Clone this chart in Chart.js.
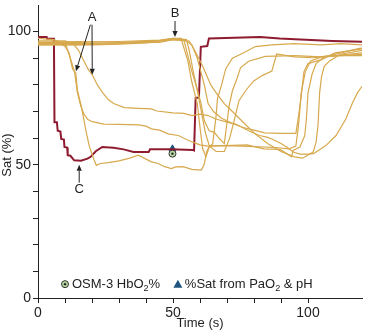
<!DOCTYPE html>
<html>
<head>
<meta charset="utf-8">
<script src="https://cdn.jsdelivr.net/npm/chart.js@4.4.1/dist/chart.umd.min.js"></script>
<style>
  html, body { margin: 0; padding: 0; background: #fff; }
</style>
</head>
<body>
<canvas id="graf" width="367" height="330"></canvas>
<script>
//---------------------------------------------------------------------------
//                         DADOS

const xTickLabels = [0, 50, 100];
const yTickLabels = [0, 50, 100];

// curva C (vermelha)
const tempoC = [0, 3.2, 3.4, 5.9, 6.1, 7, 7.3, 8.3, 8.6, 9.6, 9.8, 10.8, 11, 12, 13.4, 15.9, 18.3, 19.5, 21.4, 23.8, 28, 31.7, 35.4, 41, 41.5, 49.4, 57.3, 57.8, 58.4, 59.6, 60.3, 62.7, 63.3, 82.2, 89.5, 109, 120];
const satC   = [98, 98, 97.3, 97.3, 66, 66, 62.8, 62.5, 59.7, 59.5, 56.7, 56.5, 53.6, 53.4, 51.7, 51.5, 52.3, 53, 55.1, 56.7, 56.4, 55.8, 54.8, 54.8, 55.8, 55.8, 55.6, 55.4, 75.2, 75.2, 94.3, 94.6, 97.4, 98, 97.4, 96.5, 96.2];

// curvas amarelas
const tempo1 = [0, 8, 10, 11.5, 12.8, 14, 14.6, 15.9, 17, 17.7, 19, 20.7, 21.6, 23, 26, 30, 34, 37.2, 42, 44.5, 46.9, 49.4, 51, 53.7, 57, 60.5, 61.5, 62.5, 63.5, 70, 80, 88, 93, 95.5, 96.5, 97.5, 99, 101, 105, 110, 120];
const sat1   = [95.5, 95.5, 94.5, 92, 86, 84.5, 78, 72.5, 67, 63, 57, 52, 49.8, 50.5, 50.8, 51.5, 52.5, 53.6, 51.1, 50.5, 49.3, 48.6, 49.2, 49.3, 48.3, 48, 50, 55, 57, 57.2, 56.8, 56.5, 56, 57, 65, 77, 85, 89, 90.5, 91, 92];

const tempo2 = [0, 6, 10.5, 12, 13.5, 14.6, 15.9, 17, 18.5, 20.1, 24.4, 30, 37.2, 40, 42, 45, 48.2, 52, 55, 57.3, 60, 62.8, 67, 72, 77.5, 83.6, 89.6, 92.1, 93.9, 94.5, 97, 98.8, 99.4, 100, 101.5, 103, 106, 112, 120];
const sat2   = [97.5, 97, 94.5, 90, 85, 77, 72, 69, 67, 66.2, 65.3, 65.2, 65, 64.5, 63.5, 63, 61.6, 61, 59.5, 58.5, 57.5, 57, 57.2, 57.3, 57.5, 56, 55.8, 54.2, 53, 55.4, 56.7, 61, 67.2, 77, 84, 88, 90.5, 91, 91.5];

const tempo3 = [0, 10, 13, 15, 16.5, 18.5, 20.1, 22, 24, 26, 28, 32, 37, 42, 44, 50, 54, 57, 60, 63, 65.9, 70, 73.2, 78, 82, 84.8, 86.6, 90, 92.1, 94.5, 97, 100, 102, 104, 106.7, 110.4, 114, 116.5, 118.3, 120];
const sat3   = [96.5, 96.5, 95.5, 93, 90, 86, 83.8, 80, 77, 74.5, 73, 71.5, 71.2, 71, 70.2, 69.5, 69.3, 68.5, 69, 68.5, 67.2, 66, 65.3, 62.8, 61, 60.4, 59.7, 58, 56.7, 54.8, 54, 54, 54.2, 55.5, 57.3, 61, 67.2, 73.3, 77, 79.5];

const tempo4 = [0, 10, 20, 30, 40, 45, 50, 53, 54, 55.5, 57, 58, 59, 60, 61, 62.2, 63.4, 64.7, 65.9, 66.5, 68, 69.5, 72, 76, 80.5, 86.6, 95, 105, 112, 120];
const sat4   = [95, 95.2, 95, 95.3, 95.8, 96.5, 97.5, 97.5, 94, 89, 81, 77, 73, 64, 56, 53, 56.7, 57.9, 67.8, 75, 80, 86, 90, 92, 94.4, 95, 95.5, 95, 95.5, 95];

const tempo5 = [0, 15, 30, 45, 50, 54, 55, 57, 58.5, 60.4, 61.6, 63.4, 65.3, 67, 69, 70.8, 72, 73.8, 75, 78, 84.2, 95, 105, 110, 120];
const sat5   = [96, 96.3, 96, 96.5, 97.3, 97, 93, 85, 80, 73, 66.5, 62.8, 62.2, 60, 58, 72.2, 77.8, 82.7, 86.4, 88.9, 90.7, 91, 90.5, 91, 91];

const tempo6 = [0, 15, 30, 45, 50, 55, 57, 59, 61.6, 63, 65, 68, 72, 76, 80, 84, 90, 95.5, 96, 97, 97.6, 98.5, 100, 105, 110, 120];
const sat6   = [95, 95, 95.5, 96.5, 97, 96.5, 95, 90, 80, 73, 70, 67.5, 65.5, 64, 63, 62, 61.8, 61.8, 65, 72, 77, 85, 88, 89.5, 92, 93.5];

const tempo7 = [0, 15, 30, 45, 50, 56, 58, 61, 64, 66, 69, 72, 76, 80, 85, 90, 95, 98, 101.9, 103, 103.7, 104.3, 105, 106, 108, 112, 120];
const sat7   = [95.5, 95.5, 95.8, 96, 97, 96.5, 93, 87, 80, 77, 73, 70, 66, 62, 58, 55, 53, 52.5, 54.8, 58.5, 64.7, 77, 83, 87, 89, 91.5, 93];

const tempo8 = [0, 15, 30, 45, 50, 55, 56, 57.5, 59, 60.5, 62, 63.5, 66, 69, 71, 73, 74.4, 77, 79.9, 83, 86.6, 88.4, 95, 101.9, 108, 114, 119, 120];
const sat8   = [96, 96, 96.3, 96.8, 97.5, 97, 93, 85, 78, 70, 62, 57, 55, 55, 60, 68, 74, 78, 81.5, 83.5, 85.2, 91.6, 90.5, 90.2, 91, 92.5, 93.7, 93.8];

// pontos medidos em t = 50 s
const tempoOsm = [49.8];
const satOsm   = [54.2];
const tempoGas = [49.8];
const satGas   = [56];

const legendaOsm = [['OSM-3 HbO', false], ['2', true], ['%', false]];
const legendaGas = [['%Sat from PaO', false], ['2', true], [' & pH', false]];

//---------------------------------------------------------------------------

const fonte = "'Liberation Sans', Arial, Helvetica, sans-serif";
const amarelo = '#d7a94e';
const vermelho = '#8e1b2f';

function pontos(tempo, sat) {
    return tempo.map((t, i) => ({ x: t, y: sat[i] }));
}

const curvasAmarelas = [
    [tempo1, sat1], [tempo2, sat2], [tempo3, sat3], [tempo4, sat4],
    [tempo5, sat5], [tempo6, sat6], [tempo7, sat7], [tempo8, sat8]
];

const datasets = curvasAmarelas.map(c => ({
    data: pontos(c[0], c[1]),
    borderColor: amarelo,
    borderWidth: 1.2,
    pointRadius: 0,
    tension: 0
}));

datasets.push({
    data: pontos(tempoC, satC),
    borderColor: vermelho,
    borderWidth: 2,
    pointRadius: 0,
    tension: 0
});

datasets.push({
    data: pontos(tempoOsm, satOsm),
    showLine: false,
    pointStyle: 'circle',
    pointRadius: 3.5,
    backgroundColor: '#b9d9a3',
    borderColor: '#333',
    borderWidth: 1
});

datasets.push({
    data: pontos(tempoGas, satGas),
    showLine: false,
    pointStyle: 'triangle',
    pointRadius: 4,
    backgroundColor: '#1f5480',
    borderColor: '#1f5480',
    borderWidth: 1
});

function textoSub(ctx, partes, x, y, tam) {
    let px = x;
    partes.forEach(p => {
        const sub = p[1];
        ctx.font = (sub ? tam * 0.7 : tam) + 'px ' + fonte;
        ctx.fillText(p[0], px, sub ? y + tam * 0.3 : y);
        px += ctx.measureText(p[0]).width;
    });
}

function seta(ctx, x0, y0, x1, y1) {
    const ang = Math.atan2(y1 - y0, x1 - x0);
    const len = 6, w = 2.6;
    ctx.beginPath();
    ctx.moveTo(x0, y0);
    ctx.lineTo(x1 - Math.cos(ang) * len, y1 - Math.sin(ang) * len);
    ctx.stroke();
    ctx.beginPath();
    ctx.moveTo(x1, y1);
    ctx.lineTo(x1 - len * Math.cos(ang) + w * Math.sin(ang), y1 - len * Math.sin(ang) - w * Math.cos(ang));
    ctx.lineTo(x1 - len * Math.cos(ang) - w * Math.sin(ang), y1 - len * Math.sin(ang) + w * Math.cos(ang));
    ctx.closePath();
    ctx.fill();
}

const anotacoes = {
    id: 'anotacoes',
    afterDatasetsDraw(chart) {
        const { ctx, scales: { x, y } } = chart;
        ctx.save();
        ctx.fillStyle = '#222';
        ctx.strokeStyle = '#222';
        ctx.lineWidth = 1;

        // ponto central do circulo OSM
        const cx = x.getPixelForValue(tempoOsm[0]);
        const cy = y.getPixelForValue(satOsm[0]);
        ctx.beginPath();
        ctx.arc(cx, cy, 1.2, 0, Math.PI * 2);
        ctx.fill();

        ctx.font = '13px ' + fonte;
        ctx.textAlign = 'center';
        ctx.textBaseline = 'middle';
        ctx.fillText('A', x.getPixelForValue(20), y.getPixelForValue(105.2));
        ctx.fillText('B', x.getPixelForValue(50.75), y.getPixelForValue(106.7));
        ctx.fillText('C', x.getPixelForValue(15.26), y.getPixelForValue(40.7));

        seta(ctx, x.getPixelForValue(19.4), y.getPixelForValue(102.6), x.getPixelForValue(14.05), y.getPixelForValue(85.1));
        seta(ctx, x.getPixelForValue(20.0), y.getPixelForValue(102.6), x.getPixelForValue(20.1), y.getPixelForValue(83.8));
        seta(ctx, x.getPixelForValue(50.75), y.getPixelForValue(104), x.getPixelForValue(50.75), y.getPixelForValue(98));
        seta(ctx, x.getPixelForValue(15.26), y.getPixelForValue(43.3), x.getPixelForValue(15.26), y.getPixelForValue(50));

        // legenda
        const ly = y.getPixelForValue(5.2);
        const lx1 = x.getPixelForValue(10);
        ctx.fillStyle = '#b9d9a3';
        ctx.strokeStyle = '#333';
        ctx.beginPath();
        ctx.arc(lx1, ly, 3.5, 0, Math.PI * 2);
        ctx.fill();
        ctx.stroke();
        ctx.fillStyle = '#222';
        ctx.beginPath();
        ctx.arc(lx1, ly, 1.2, 0, Math.PI * 2);
        ctx.fill();

        const lx2 = x.getPixelForValue(51.8);
        ctx.fillStyle = '#1f5480';
        ctx.beginPath();
        ctx.moveTo(lx2, ly - 4.5);
        ctx.lineTo(lx2 + 4.5, ly + 3.5);
        ctx.lineTo(lx2 - 4.5, ly + 3.5);
        ctx.closePath();
        ctx.fill();

        ctx.fillStyle = '#222';
        ctx.textAlign = 'left';
        textoSub(ctx, legendaOsm, lx1 + 7, ly, 13);
        textoSub(ctx, legendaGas, lx2 + 7, ly, 13);

        // titulos dos eixos
        ctx.font = '13px ' + fonte;
        ctx.textAlign = 'center';
        ctx.fillText('Time (s)', (x.left + x.right) / 2, 323);
        ctx.translate(7, 155);
        ctx.rotate(-Math.PI / 2);
        ctx.fillText('Sat (%)', 0, 0);
        ctx.restore();
    }
};

function rotuloTick(lista) {
    return function (v) {
        if (v > 100) return null;
        return lista.includes(v) ? String(v) : '';
    };
}

const grafico = new Chart(document.getElementById('graf'), {
    type: 'line',
    data: { datasets: datasets },
    options: {
        responsive: false,
        animation: false,
        devicePixelRatio: 1,
        layout: { padding: { top: -1, right: 1, left: 0, bottom: 0 } },
        plugins: { legend: { display: false }, tooltip: { enabled: false } },
        scales: {
            x: {
                type: 'linear',
                min: 0,
                max: 120,
                ticks: {
                    stepSize: 10,
                    autoSkip: false,
                    maxRotation: 0,
                    padding: 2,
                    color: '#222',
                    font: { family: fonte, size: 14 },
                    callback: rotuloTick(xTickLabels)
                },
                grid: { drawOnChartArea: false, drawTicks: true, tickLength: 5, color: '#222' },
                border: { display: true, color: '#222', width: 1 },
                afterFit: s => { s.height = 32; s.paddingLeft = 0; s.paddingRight = 0; }
            },
            y: {
                type: 'linear',
                min: 0,
                max: 110,
                ticks: {
                    stepSize: 10,
                    autoSkip: false,
                    padding: 2,
                    color: '#222',
                    font: { family: fonte, size: 14 },
                    callback: rotuloTick(yTickLabels)
                },
                grid: { drawOnChartArea: false, drawTicks: true, tickLength: 5, color: '#222' },
                border: { display: true, color: '#222', width: 1 },
                afterFit: s => { s.width = 38; s.paddingTop = 0; s.paddingBottom = 0; }
            }
        }
    },
    plugins: [anotacoes]
});
</script>
</body>
</html>
